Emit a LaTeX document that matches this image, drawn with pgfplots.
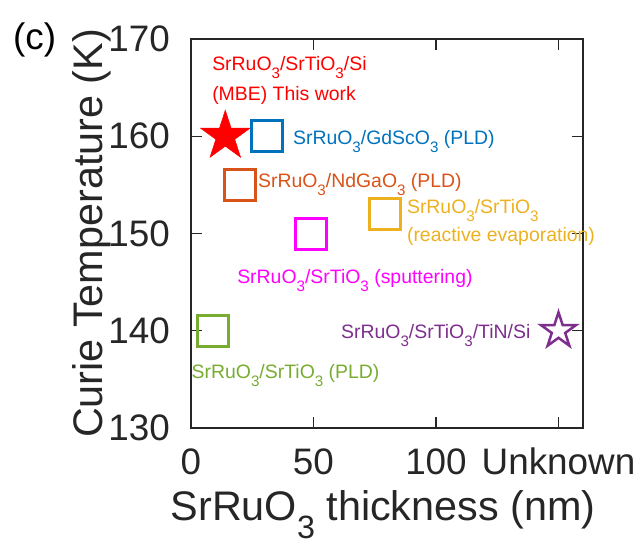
\documentclass[border=0pt]{standalone}
\usepackage{pgfplots}
\pgfplotsset{compat=1.18}
\usepackage{graphicx}
\usepackage{fontspec}
\setmainfont{Liberation Sans}
\definecolor{axgray}{HTML}{262626}
\definecolor{mblue}{HTML}{0072BD}
\definecolor{morange}{HTML}{D95319}
\definecolor{myellow}{HTML}{EDB120}
\definecolor{mgreen}{HTML}{77AC30}
\definecolor{mpurple}{HTML}{7E2F8E}
\definecolor{mmag}{HTML}{FF00FF}
\newcommand{\sub}[1]{\raisebox{-0.42em}{\scalebox{0.78}{#1}}}
\newcommand{\starpath}{%
  \pgfpathmoveto{\pgfpointpolar{90}{\pgfplotmarksize}}%
  \pgfpathlineto{\pgfpointpolar{126}{0.382\pgfplotmarksize}}%
  \pgfpathlineto{\pgfpointpolar{162}{\pgfplotmarksize}}%
  \pgfpathlineto{\pgfpointpolar{198}{0.382\pgfplotmarksize}}%
  \pgfpathlineto{\pgfpointpolar{234}{\pgfplotmarksize}}%
  \pgfpathlineto{\pgfpointpolar{270}{0.382\pgfplotmarksize}}%
  \pgfpathlineto{\pgfpointpolar{306}{\pgfplotmarksize}}%
  \pgfpathlineto{\pgfpointpolar{342}{0.382\pgfplotmarksize}}%
  \pgfpathlineto{\pgfpointpolar{18}{\pgfplotmarksize}}%
  \pgfpathlineto{\pgfpointpolar{54}{0.382\pgfplotmarksize}}%
  \pgfpathclose}
\pgfdeclareplotmark{pstarfilled}{\starpath\pgfusepathqfillstroke}
\pgfdeclareplotmark{pstaropen}{\starpath\pgfusepathqstroke}
\begin{document}
\begin{tikzpicture}[x=1bp,y=1bp]
\begin{axis}[
  at={(0,0)}, anchor=south west,
  scale only axis, width=392bp, height=389bp,
  xmin=0, xmax=160, ymin=130, ymax=170,
  xtick={0,50,100,150}, xticklabels={0,50,100,Unknown},
  ytick={130,140,...,170},
  tick align=inside, major tick length=11bp,
  axis line style={line width=1.2bp, color=axgray},
  tick style={line width=1.2bp, color=axgray},
  /pgf/number format/assume math mode=true,
  ticklabel style={font=\fontsize{37}{40}\selectfont, text=axgray, inner sep=0pt},
  xticklabel style={anchor=base, yshift=-46bp},
  yticklabel style={anchor=east, xshift=-21bp},
  xlabel={SrRuO\sub{3} thickness (nm)},
  ylabel={Curie Temperature (K)},
  label style={font=\fontsize{41.5}{44}\selectfont, text=axgray, inner sep=0pt},
  xlabel style={at={(axis description cs:0.49,-0.2390)}, anchor=base},
  ylabel style={at={(axis description cs:-0.2245,0.5)}, anchor=base},
  clip=false,
]
\addplot[only marks, mark=pstarfilled, mark size=26bp, line width=0.5bp, mark options={fill=red, draw=red}] coordinates {(14,160)};
\addplot[only marks, mark=square, mark size=15.5bp, line width=3bp, draw=mblue] coordinates {(31,160)};
\addplot[only marks, mark=square, mark size=15.5bp, line width=3bp, draw=morange] coordinates {(20,155)};
\addplot[only marks, mark=square, mark size=15.5bp, line width=3bp, draw=myellow] coordinates {(79,152)};
\addplot[only marks, mark=square, mark size=15.5bp, line width=3bp, draw=mmag] coordinates {(49,150)};
\addplot[only marks, mark=square, mark size=15.5bp, line width=3bp, draw=mgreen] coordinates {(9,140)};
\addplot[only marks, mark=pstaropen, mark size=18.5bp, line width=2.5bp, mark options={draw=mpurple}] coordinates {(150,140)};

\begin{scope}[every node/.style={font=\fontsize{19.5}{24}\selectfont, inner sep=0pt, anchor=base west}]
\node[text=red] at (axis cs:8.6,166.8) {SrRuO\sub{3}/SrTiO\sub{3}/Si};
\node[text=red] at (axis cs:8.6,163.7) {(MBE) This work};
\node[text=mblue] at (axis cs:41.6,159.2) {SrRuO\sub{3}/GdScO\sub{3} (PLD)};
\node[text=morange] at (axis cs:27.3,154.7) {SrRuO\sub{3}/NdGaO\sub{3} (PLD)};
\node[text=myellow] at (axis cs:88.1,152.1) {SrRuO\sub{3}/SrTiO\sub{3}};
\node[text=myellow] at (axis cs:88.1,149.2) {(reactive evaporation)};
\node[text=mmag] at (axis cs:18.8,144.9) {SrRuO\sub{3}/SrTiO\sub{3} (sputtering)};
\node[text=mpurple] at (axis cs:61.2,139.2) {SrRuO\sub{3}/SrTiO\sub{3}/TiN/Si};
\node[text=mgreen] at (axis cs:0.2,135.1) {SrRuO\sub{3}/SrTiO\sub{3} (PLD)};
\end{scope}
\end{axis}
\node[anchor=base west, font=\fontsize{37}{40}\selectfont, text=black, inner sep=0pt] at (-178bp,378bp) {(c)};
\pgfresetboundingbox
\useasboundingbox (-191bp,-117bp) rectangle (444bp,428bp);
\end{tikzpicture}
\end{document}
